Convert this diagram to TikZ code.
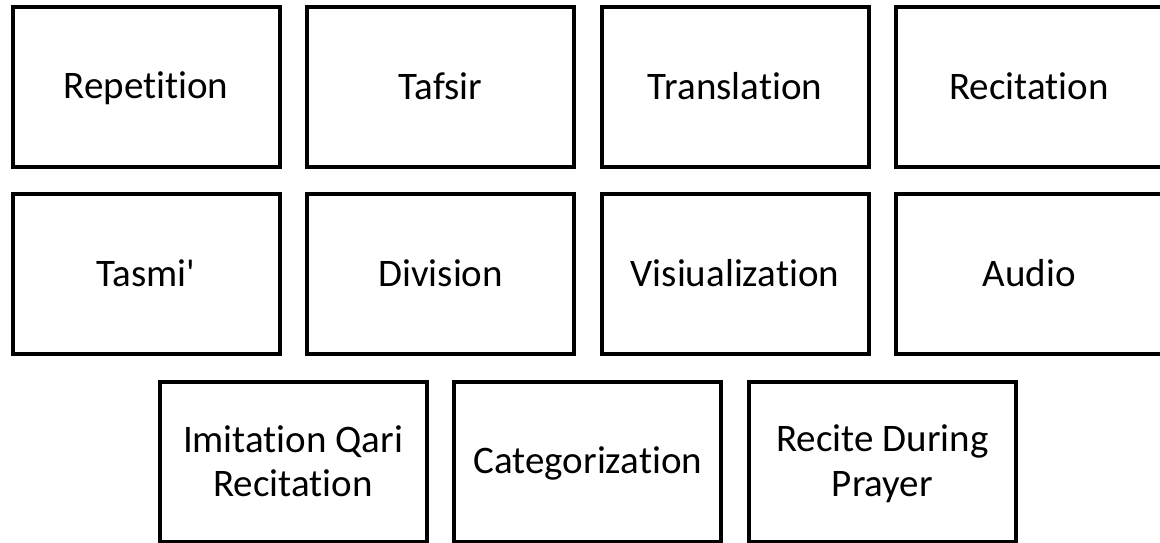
\documentclass[tikz,border=0pt]{standalone}
\usepackage{fontspec}
\setmainfont{Carlito}[Ligatures={TeX,NoCommon,NoContextual}]
\newcommand\lnstrut{\rule[-5pt]{0pt}{35pt}}
\begin{document}
\begin{tikzpicture}[x=1pt,y=-1pt,
  cardbox/.style={draw=black, line width=4pt, fill=white, rectangle,
    minimum width=267pt, minimum height=160pt, inner sep=0pt,
    align=center, font=\fontsize{39}{44.3}\selectfont}]
\path[use as bounding box, clip] (0,0) rectangle (1160,542);
\fill[white] (0,0) rectangle (1160,542);
% row 1
\node[cardbox] (rep) at (146,87) {\lnstrut Repetition};
\node[cardbox] (taf) at (440.7,87) {\lnstrut Tafsir};
\node[cardbox] (tra) at (735,87) {\lnstrut Translation};
\node[cardbox] (rec) at (1029.1,87) {\lnstrut Recitation};
% row 2
\node[cardbox] (tas) at (146,274.4) {\lnstrut Tasmi\textquotesingle};
\node[cardbox] (div) at (440.7,274.4) {\lnstrut Division};
\node[cardbox] (vis) at (735,274.4) {\lnstrut Visiualization};
\node[cardbox] (aud) at (1029.1,274.4) {\lnstrut Audio};
% row 3
\node[cardbox] (imi) at (293.1,462) {\lnstrut Imitation Qari\\\lnstrut Recitation};
\node[cardbox] (cat) at (587.8,462) {\lnstrut Categorization};
\node[cardbox] (pra) at (882.4,462) {\lnstrut Recite During\\\lnstrut Prayer};
\end{tikzpicture}
\end{document}
